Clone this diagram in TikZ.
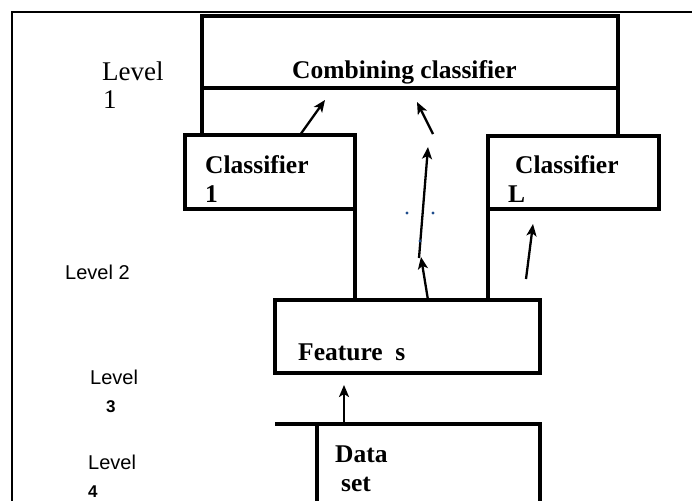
\documentclass[tikz,border=0pt]{standalone}
\usepackage{fontspec}
\setmainfont{Liberation Serif}
\setsansfont{Liberation Sans}
\usetikzlibrary{arrows.meta}
\definecolor{dotblue}{rgb}{0.12,0.30,0.55}
\tikzset{
  boxline/.style={draw=black, line width=3.4pt},
  framel/.style={draw=black, line width=2.4pt},
  arr/.style={draw=black, line width=2.3pt, -{Stealth[length=12pt,width=10pt,inset=3pt]}},
  blabel/.style={anchor=base west, inner sep=0pt, font=\fontsize{25.5}{30}\selectfont\bfseries},
  slabel/.style={anchor=base west, inner sep=0pt, font=\fontsize{20}{24}\selectfont\sffamily},
  dlabel/.style={anchor=base west, inner sep=0pt, font=\fontsize{17}{20}\selectfont\sffamily\bfseries},
  rlabel/.style={anchor=base west, inner sep=0pt, font=\fontsize{27}{32}\selectfont},
  bx/.style={boxline, anchor=north west, inner sep=0pt, outer sep=0pt},
  bdot/.style={circle, fill=dotblue, inner sep=0pt, minimum size=3.2pt}
}
\begin{document}
\begin{tikzpicture}[x=1pt,y=-1pt]
\useasboundingbox (0,0) rectangle (692,500);
% outer frame
\coordinate (fbl) at (12,502);
\coordinate (ftl) at (12,12);
\coordinate (ftr) at (694,12);
\draw[framel] (fbl) -- (ftl) -- (ftr);
% combining classifier
\node[bx, minimum width=416pt, minimum height=72pt] (comb) at (202,16) {};
% classifiers
\node[bx, minimum width=170pt, minimum height=74pt] (c1) at (185,135) {};
\node[bx, minimum width=171pt, minimum height=73pt] (cL) at (488,136) {};
% features
\node[bx, minimum width=265pt, minimum height=73pt] (feat) at (275,300) {};
% data set (open at bottom)
\coordinate (dtl) at (317,424);
\coordinate (dtr) at (540,424);
\coordinate (dbl) at (317,504);
\coordinate (dbr) at (540,504);
\coordinate (dext) at (275,424);
\draw[boxline] (dext) -- (dtl);
\draw[boxline] (dbl) -- (dtl) -- (dtr) -- (dbr);
% vertical links
\draw[boxline] (comb.south west) -- (comb.south west |- c1.north);
\draw[boxline] (comb.south east) -- (comb.south east |- cL.north);
\draw[boxline] (c1.south east) -- (c1.south east |- feat.north);
\draw[boxline] (cL.south west) -- (cL.south west |- feat.north);
% arrows
\coordinate (a1s) at (300,135); \coordinate (a1e) at (325,100);
\coordinate (a2s) at (433,134); \coordinate (a2e) at (417,102);
\coordinate (a3s) at (419,258); \coordinate (a3e) at (428,147);
\coordinate (a4s) at (428,300); \coordinate (a4e) at (421,257);
\coordinate (a5s) at (526,279); \coordinate (a5e) at (533,224);
\coordinate (a6s) at (344,422); \coordinate (a6e) at (344,385);
\draw[arr] (a1s) -- (a1e);
\draw[arr] (a2s) -- (a2e);
\draw[arr] (a3s) -- (a3e);
\draw[arr] (a4s) -- (a4e);
\draw[arr] (a5s) -- (a5e);
\draw[arr] (a6s) -- (a6e);
% dots
\node[bdot] (d1) at (407,213) {};
\node[bdot] (d2) at (433,213) {};
\node[bdot] (d3) at (420,241) {};
% texts
\node[blabel] (tcomb) at (292,79) {Combining classifier};
\node[blabel] (tc1a) at (205,173) {Classifier};
\node[blabel] (tc1b) at (205,202) {1};
\node[blabel] (tcLa) at (515,173) {Classifier};
\node[blabel] (tcLb) at (508,202) {L};
\node[blabel] (tfeat) at (298,360) {Feature\ \ s};
\node[blabel] (tdata) at (335,462) {Data};
\node[blabel] (tset) at (341,491) {set};
\node[rlabel] (l1a) at (102,81) {Level};
\node[rlabel] (l1b) at (103,109) {1};
\node[slabel] (l2) at (65,279) {Level 2};
\node[slabel] (l3a) at (90,384) {Level};
\node[dlabel] (l3b) at (106,412) {3};
\node[slabel] (l4a) at (88,469) {Level};
\node[dlabel] (l4b) at (88,497) {4};
\end{tikzpicture}
\end{document}
